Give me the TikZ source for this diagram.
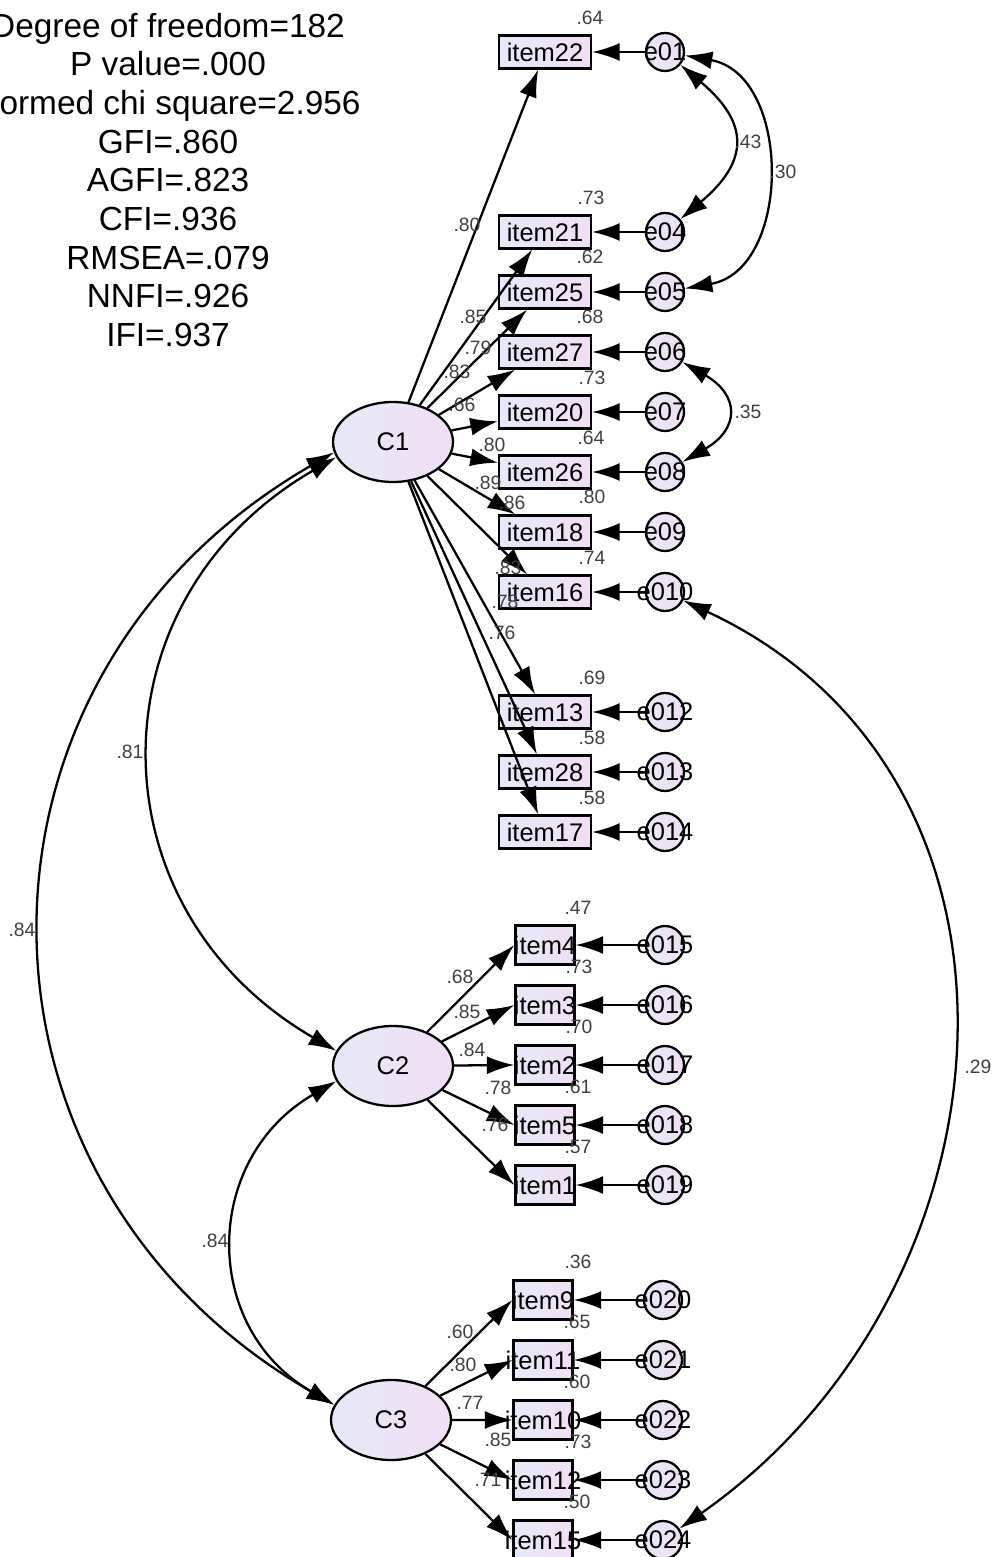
\documentclass[tikz,border=0pt]{standalone}
\usepackage{fontspec}
\setmainfont{Liberation Sans}
\usetikzlibrary{shapes,arrows.meta}
\definecolor{shadeL}{RGB}{229,233,247}
\definecolor{shadeR}{RGB}{242,222,246}
\newcommand{\zw}[1]{\makebox[0pt]{#1}}
\tikzstyle{block} = [rectangle, draw, line width=1.3pt, left color=shadeL, right color=shadeR,
    minimum width=18.4mm, minimum height=6.6mm, inner sep=0pt, font=\fontsize{14.5}{16}\selectfont]
\tikzstyle{narrow} = [block, minimum width=11.8mm, minimum height=7.8mm]
\tikzstyle{round} = [circle, draw, line width=1.3pt, left color=shadeL, right color=shadeR,
    minimum size=7.6mm, inner sep=0pt, font=\fontsize{14.5}{16}\selectfont]
\tikzstyle{latent} = [ellipse, draw, line width=1.3pt, left color=shadeL, right color=shadeR,
    minimum width=24mm, minimum height=16mm, inner sep=0pt, font=\fontsize{14.5}{16}\selectfont]
\tikzstyle{line} = [draw, line width=1.3pt, -{Latex[length=5.5mm,width=3.6mm]}]
\tikzstyle{cov} = [draw, line width=1.3pt, {Latex[length=5.5mm,width=3.6mm]}-{Latex[length=5.5mm,width=3.6mm]}]
\tikzstyle{est} = [inner sep=0pt, text=black!75, font=\fontsize{11}{13}\selectfont]
\tikzstyle{fitstats} = [align=center, inner sep=0pt, font=\fontsize{19}{22}\selectfont]

\begin{document}
\begin{tikzpicture}[x=0.2mm, y=0.2mm, node distance=12mm]
    \useasboundingbox (0,0) rectangle (994,-1557);

    % fit indices
    \node (stats) [fitstats] at (168,-180) {Degree of freedom=182\\P value=.000\\Normed chi square=2.956\\GFI=.860\\AGFI=.823\\CFI=.936\\RMSEA=.079\\NNFI=.926\\IFI=.937};

    % factor C1
    \node (f1) [latent] at (393,-442) {C1};
    \node (i22) [block] at (545,-52) {\zw{item22}};
    \node (i21) [block] at (545,-232) {\zw{item21}};
    \node (i25) [block, below of=i21] {\zw{item25}};
    \node (i27) [block, below of=i25] {\zw{item27}};
    \node (i20) [block, below of=i27] {\zw{item20}};
    \node (i26) [block, below of=i20] {\zw{item26}};
    \node (i18) [block, below of=i26] {\zw{item18}};
    \node (i16) [block, below of=i18] {\zw{item16}};
    \node (i13) [block] at (545,-712) {\zw{item13}};
    \node (i28) [block, below of=i13] {\zw{item28}};
    \node (i17) [block, below of=i28] {\zw{item17}};

    \node (e01) [round, node distance=24mm, right of=i22] {\zw{e01}};
    \node (e04) [round, node distance=24mm, right of=i21] {\zw{e04}};
    \node (e05) [round, node distance=24mm, right of=i25] {\zw{e05}};
    \node (e06) [round, node distance=24mm, right of=i27] {\zw{e06}};
    \node (e07) [round, node distance=24mm, right of=i20] {\zw{e07}};
    \node (e08) [round, node distance=24mm, right of=i26] {\zw{e08}};
    \node (e09) [round, node distance=24mm, right of=i18] {\zw{e09}};
    \node (e010) [round, node distance=24mm, right of=i16] {\zw{e010}};
    \node (e012) [round, node distance=24mm, right of=i13] {\zw{e012}};
    \node (e013) [round, node distance=24mm, right of=i28] {\zw{e013}};
    \node (e014) [round, node distance=24mm, right of=i17] {\zw{e014}};

    % factor C2
    \node (f2) [latent] at (393,-1066) {C2};
    \node (i4) [narrow] at (545,-945) {\zw{item4}};
    \node (i3) [narrow, below of=i4] {\zw{item3}};
    \node (i2) [narrow, below of=i3] {\zw{item2}};
    \node (i5) [narrow, below of=i2] {\zw{item5}};
    \node (i1) [narrow, below of=i5] {\zw{item1}};

    \node (e015) [round, node distance=24mm, right of=i4] {\zw{e015}};
    \node (e016) [round, node distance=24mm, right of=i3] {\zw{e016}};
    \node (e017) [round, node distance=24mm, right of=i2] {\zw{e017}};
    \node (e018) [round, node distance=24mm, right of=i5] {\zw{e018}};
    \node (e019) [round, node distance=24mm, right of=i1] {\zw{e019}};

    % factor C3
    \node (f3) [latent] at (391,-1420) {C3};
    \node (i9) [narrow] at (543,-1300) {\zw{item9}};
    \node (i11) [narrow, below of=i9] {\zw{item11}};
    \node (i10) [narrow, below of=i11] {\zw{item10}};
    \node (i12) [narrow, below of=i10] {\zw{item12}};
    \node (i15) [narrow, below of=i12] {\zw{item15}};

    \node (e020) [round, node distance=24mm, right of=i9] {\zw{e020}};
    \node (e021) [round, node distance=24mm, right of=i11] {\zw{e021}};
    \node (e022) [round, node distance=24mm, right of=i10] {\zw{e022}};
    \node (e023) [round, node distance=24mm, right of=i12] {\zw{e023}};
    \node (e024) [round, node distance=24mm, right of=i15] {\zw{e024}};

    % loadings
    \draw [line] (f1) -- (i22);
    \draw [line] (f1) -- (i21);
    \draw [line] (f1) -- (i25);
    \draw [line] (f1) -- (i27);
    \draw [line] (f1) -- (i20);
    \draw [line] (f1) -- (i26);
    \draw [line] (f1) -- (i18);
    \draw [line] (f1) -- (i16);
    \draw [line] (f1) -- (i13);
    \draw [line] (f1) -- (i28);
    \draw [line] (f1) -- (i17);

    \draw [line] (f2) -- (i4.west);
    \draw [line] (f2) -- (i3.west);
    \draw [line] (f2) -- (i2.west);
    \draw [line] (f2) -- (i5.west);
    \draw [line] (f2) -- (i1.west);

    \draw [line] (f3) -- (i9.west);
    \draw [line] (f3) -- (i11.west);
    \draw [line] (f3) -- (i10.west);
    \draw [line] (f3) -- (i12.west);
    \draw [line] (f3) -- (i15.west);

    % errors
    \draw [line] (e01) -- (i22);
    \draw [line] (e04) -- (i21);
    \draw [line] (e05) -- (i25);
    \draw [line] (e06) -- (i27);
    \draw [line] (e07) -- (i20);
    \draw [line] (e08) -- (i26);
    \draw [line] (e09) -- (i18);
    \draw [line] (e010) -- (i16);
    \draw [line] (e012) -- (i13);
    \draw [line] (e013) -- (i28);
    \draw [line] (e014) -- (i17);
    \draw [line] (e015) -- (i4);
    \draw [line] (e016) -- (i3);
    \draw [line] (e017) -- (i2);
    \draw [line] (e018) -- (i5);
    \draw [line] (e019) -- (i1);
    \draw [line] (e020) -- (i9);
    \draw [line] (e021) -- (i11);
    \draw [line] (e022) -- (i10);
    \draw [line] (e023) -- (i12);
    \draw [line] (e024) -- (i15);

    % covariances
    \draw [cov] (e01) to [out=-40, in=40, looseness=1.5] (e04);
    \draw [cov] (e01) to [out=-10, in=10, looseness=1.2] (e05);
    \draw [cov] (e06) to [out=-30, in=30, looseness=1.7] (e08);
    \draw [cov] (e010) to [out=-25, in=35, looseness=1.15] (e024);
    \draw [cov] (f1.195) to [out=210, in=150, looseness=1.23] (f2.165);
    \draw [cov] (f1.190) to [out=210, in=150, looseness=1.21] (f3.165);
    \draw [cov] (f2.195) to [out=210, in=150, looseness=1.22] (f3.165);

    % squared multiple correlations
    \node (r22) [est] at (590,-18) {.64};
    \node (r21) [est] at (591,-198) {.73};
    \node (r25) [est] at (590,-257) {.62};
    \node (r27) [est] at (590,-317) {.68};
    \node (r20) [est] at (592,-378) {.73};
    \node (r26) [est] at (591,-438) {.64};
    \node (r18) [est] at (592,-497) {.80};
    \node (r16) [est] at (592,-558) {.74};
    \node (r13) [est] at (592,-678) {.69};
    \node (r28) [est] at (592,-738) {.58};
    \node (r17) [est] at (592,-798) {.58};
    \node (r4) [est] at (578,-908) {.47};
    \node (r3) [est] at (579,-967) {.73};
    \node (r2) [est] at (579,-1027) {.70};
    \node (r5) [est] at (578,-1087) {.61};
    \node (r1) [est] at (578,-1147) {.57};
    \node (r9) [est] at (578,-1262) {.36};
    \node (r11) [est] at (577,-1322) {.65};
    \node (r10) [est] at (577,-1382) {.60};
    \node (r12) [est] at (578,-1442) {.73};
    \node (r15) [est] at (577,-1502) {.50};

    % loading estimates
    \node (p22) [est] at (467,-225) {.80};
    \node (p21) [est] at (473,-317) {.85};
    \node (p25) [est] at (478,-348) {.79};
    \node (p27) [est] at (457,-372) {.83};
    \node (p20) [est] at (462,-405) {.66};
    \node (p26) [est] at (492,-445) {.80};
    \node (p18) [est] at (488,-483) {.89};
    \node (p16) [est] at (512,-503) {.86};
    \node (p13) [est] at (508,-568) {.83};
    \node (p28) [est] at (505,-602) {.78};
    \node (p17) [est] at (502,-633) {.76};
    \node (p4) [est] at (460,-977) {.68};
    \node (p3) [est] at (467,-1012) {.85};
    \node (p2) [est] at (472,-1050) {.84};
    \node (p5) [est] at (498,-1088) {.78};
    \node (p1) [est] at (495,-1125) {.76};
    \node (p9) [est] at (460,-1332) {.60};
    \node (p11) [est] at (463,-1365) {.80};
    \node (p10) [est] at (470,-1403) {.77};
    \node (p12) [est] at (498,-1440) {.85};
    \node (p15) [est] at (488,-1480) {.71};

    % correlations
    \node (k43) [est] at (748,-142) {.43};
    \node (k30) [est] at (783,-172) {.30};
    \node (k35) [est] at (748,-412) {.35};
    \node (k29) [est] at (978,-1067) {.29};
    \node (k81) [est] at (130,-752) {.81};
    \node (k84a) [est] at (22,-930) {.84};
    \node (k84b) [est] at (215,-1241) {.84};
\end{tikzpicture}
\end{document}
